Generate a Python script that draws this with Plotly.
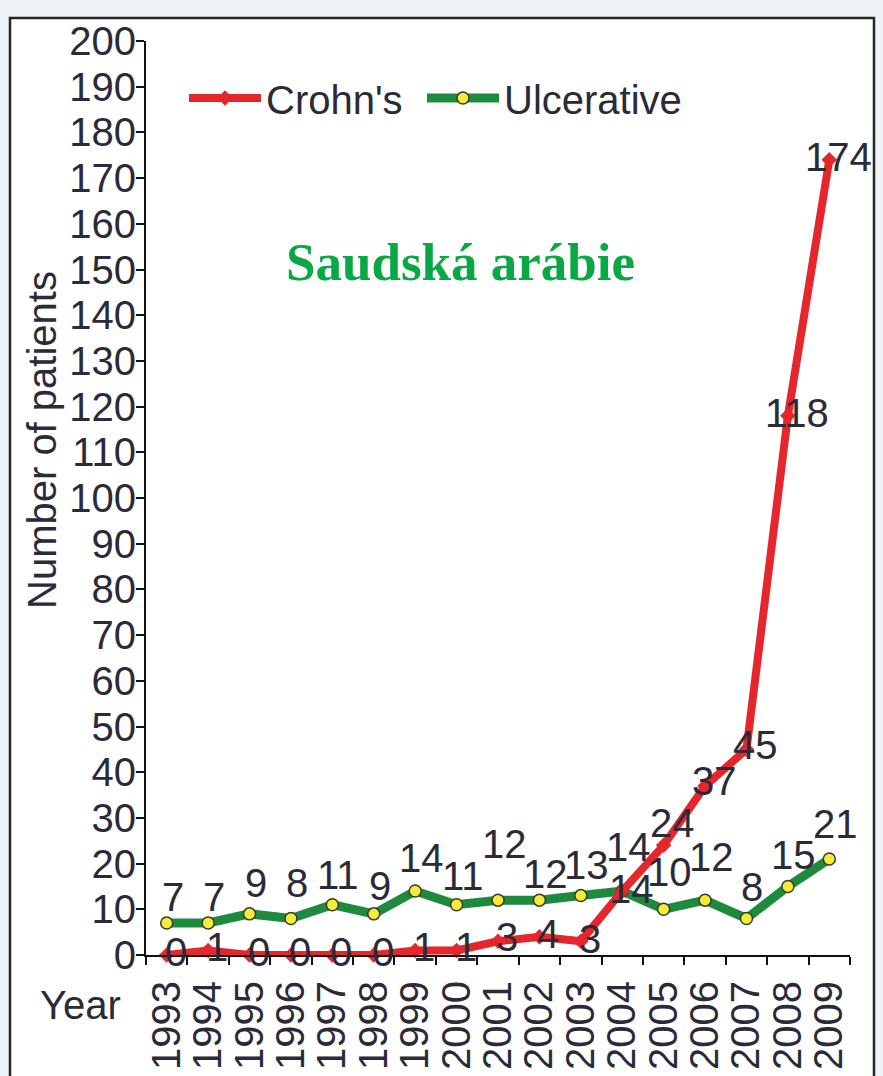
import plotly.graph_objects as go

years = ["1993", "1994", "1995", "1996", "1997", "1998", "1999", "2000", "2001",
         "2002", "2003", "2004", "2005", "2006", "2007", "2008", "2009"]
crohns = [0, 1, 0, 0, 0, 0, 1, 1, 3, 4, 3, 14, 24, 37, 45, 118, 174]
ulcerative = [7, 7, 9, 8, 11, 9, 14, 11, 12, 12, 13, 14, 10, 12, 8, 15, 21]
y_ticks = list(range(0, 201, 10))

# label offsets (px) as placed in the original figure
ulc_label_dy = [26, 26, 31, 35, 30, 28, 33, 29, 56, 26, 31, 44, 37, 43, 31, 31, 35]
cro_label_dy = [3, 3, 3, 3, 3, 3, 3, 3, 4, 3, 2, 2, 22, 5, 4, 3, 3]

RED = "#e5262b"
GREEN = "#1e8a3e"
TXT = "#2a2a38"
FONT = "Liberation Sans, Arial, sans-serif"
FS = 40

# plot-area pixel geometry
L, R, T, B = 146, 850, 41, 955
W, H = 883, 1076

def px_x(x):
    return (x - L) / (R - L)

def px_y(y):
    return (B - y) / (B - T)

fig = go.Figure()

fig.add_trace(go.Scatter(
    x=years, y=ulcerative, name="Ulcerative", mode="lines+markers",
    line=dict(color=GREEN, width=9),
    marker=dict(symbol="circle", size=12, color="#f4ec3a",
                line=dict(color="#3a3a2a", width=1.5)),
    cliponaxis=False, legendwidth=220,
))
fig.add_trace(go.Scatter(
    x=years, y=crohns, name="Crohn's", mode="lines+markers",
    line=dict(color=RED, width=8),
    marker=dict(symbol="diamond", size=12, color=RED),
    cliponaxis=False, legendwidth=151,
))

annotations = []
for i, v in enumerate(ulcerative):
    annotations.append(dict(x=i, y=v, xref="x", yref="y", text=str(v),
                            showarrow=False, yshift=ulc_label_dy[i], xshift=6,
                            xanchor="center", yanchor="middle",
                            font=dict(family=FONT, size=FS, color=TXT)))
for i, v in enumerate(crohns):
    annotations.append(dict(x=i, y=v, xref="x", yref="y", text=str(v),
                            showarrow=False, yshift=cro_label_dy[i], xshift=9,
                            xanchor="center", yanchor="middle",
                            font=dict(family=FONT, size=FS, color=TXT)))

annotations.append(dict(x=px_x(42), y=px_y(440), xref="paper", yref="paper",
                        text="Number of patients", textangle=-90, showarrow=False,
                        xanchor="center", yanchor="middle",
                        font=dict(family=FONT, size=FS, color=TXT)))
annotations.append(dict(x=px_x(80), y=px_y(1005), xref="paper", yref="paper",
                        text="Year", showarrow=False,
                        xanchor="center", yanchor="middle",
                        font=dict(family=FONT, size=FS, color=TXT)))
annotations.append(dict(x=px_x(460), y=px_y(262), xref="paper", yref="paper",
                        text="<b>Saudská arábie</b>", showarrow=False,
                        xanchor="center", yanchor="middle",
                        font=dict(family="Liberation Serif, Times New Roman, serif",
                                  size=53, color="#0aa845")))

shapes = [dict(type="rect", xref="paper", yref="paper",
               x0=px_x(10), x1=px_x(874), y0=px_y(1090), y1=px_y(18),
               line=dict(color="#262626", width=2.5), fillcolor="white",
               layer="below")]

fig.update_layout(
    width=W, height=H,
    margin=dict(l=L, r=W - R, t=T, b=H - B),
    paper_bgcolor="#eef3f8",
    plot_bgcolor="rgba(0,0,0,0)",
    font=dict(family=FONT, size=FS, color=TXT),
    showlegend=True,
    legend=dict(orientation="h", x=px_x(184), y=px_y(98), xanchor="left",
                yanchor="middle", traceorder="reversed",
                bgcolor="rgba(0,0,0,0)", font=dict(size=FS, color=TXT),
                itemwidth=72, tracegroupgap=0),
    annotations=annotations,
    shapes=shapes,
    xaxis=dict(type="category", range=[-0.5, len(years) - 0.5],
               tickmode="array", tickvals=years, ticktext=years,
               tickson="boundaries", ticks="outside", automargin=False,
               ticklen=8, tickwidth=2, tickcolor="#111", showline=True,
               linecolor="#111", linewidth=2, showgrid=False, zeroline=False,
               ticklabelstandoff=8,
               tickangle=-90, tickfont=dict(size=FS, color=TXT)),
    yaxis=dict(range=[0, 200], tickvals=y_ticks, ticks="outside", ticklen=8,
               automargin=False, ticklabelstandoff=-8,
               tickwidth=2, tickcolor="#111", showline=True, linecolor="#111",
               linewidth=2, showgrid=False, zeroline=False,
               tickfont=dict(size=FS, color=TXT)),
)

fig.write_html("out.html", config={"displayModeBar": False},
               post_script="document.body.style.margin='0';document.body.style.padding='0';")
